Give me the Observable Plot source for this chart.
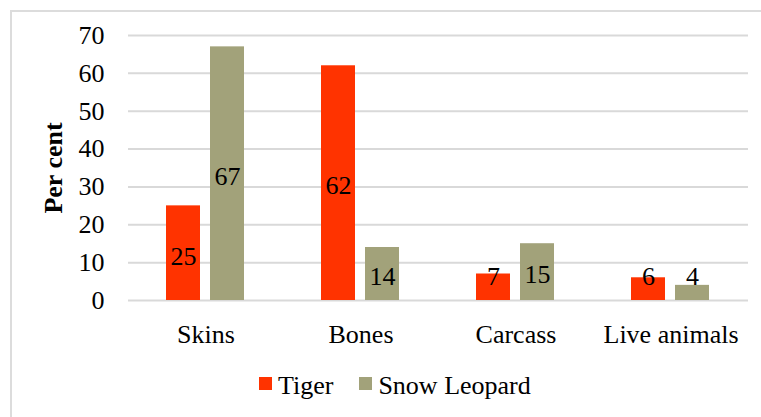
<!DOCTYPE html>
<html>
<head>
<meta charset="utf-8">
<script src="https://cdn.jsdelivr.net/npm/d3@7"></script>
<script src="https://cdn.jsdelivr.net/npm/@observablehq/plot@0.6"></script>
<style>
  html, body { margin: 0; padding: 0; background: #fff; overflow: hidden; }
  #wrap { position: relative; width: 761px; height: 417px; font-family: 'Liberation Serif', serif; color: #000; }
  #frame { position: absolute; left: 10px; top: 10px; width: 800px; height: 500px; border: 2px solid #dcdcdc; box-sizing: border-box; }
  #chart { position: absolute; left: 0; top: 0; }
  #chart svg, #chart svg text { font-family: 'Liberation Serif', serif !important; }
  #ylabel { position: absolute; left: 54px; top: 168px; transform: translate(-50%, -50%) rotate(-90deg); font-family: 'Liberation Serif', serif; font-weight: bold; font-size: 26px; white-space: nowrap; line-height: 1; }
  #legend { position: absolute; left: 259px; top: 371px; display: flex; font-family: 'Liberation Serif', serif; font-size: 26px; line-height: 30px; white-space: nowrap; }
  #legend .item { margin-right: 26px; font-family: 'Liberation Serif', serif; }
  #legend .sw { display: inline-block; width: 13px; height: 13px; margin-right: 6px; vertical-align: 4px; }
</style>
</head>
<body>
<div id="wrap">
  <div id="frame"></div>
  <div id="chart"></div>
  <div id="ylabel">Per cent</div>
  <div id="legend"></div>
</div>
<script>
const categories = ["Skins", "Bones", "Carcass", "Live animals"];
const series = ["Tiger", "Snow Leopard"];
const tigerValues = [25, 62, 7, 6];
const snowLeopardValues = [67, 14, 15, 4];
const yTicks = [0, 10, 20, 30, 40, 50, 60, 70];
const colors = ["#ff3300", "#a2a27a"];

const data = [];
categories.forEach((c, i) => {
  data.push({category: c, series: series[0], value: tigerValues[i]});
  data.push({category: c, series: series[1], value: snowLeopardValues[i]});
});

const chart = Plot.plot({
  width: 761,
  height: 360,
  marginLeft: 126,
  marginRight: 12,
  marginTop: 35,
  marginBottom: 60,
  style: {fontSize: "26px", fontFamily: "'Liberation Serif', serif", color: "#000", background: "transparent"},
  fx: {domain: categories, padding: 0, axis: "bottom", tickSize: 0, tickPadding: 24, label: null},
  x: {domain: series, paddingInner: 0.222, paddingOuter: 0.84, axis: null},
  y: {domain: [0, 70], ticks: yTicks, tickSize: 0, tickPadding: 24, label: null},
  color: {domain: series, range: colors},
  marks: [
    Plot.ruleY(yTicks, {stroke: "#d9d9d9", strokeWidth: 2}),
    Plot.barY(data, {fx: "category", x: "series", y: "value", fill: "series"}),
    Plot.text(data, {fx: "category", x: "series", y: d => Math.max(d.value / 2, 7), text: d => String(d.value), dy: 3, fill: "#000", fontSize: 26})
  ]
});
document.getElementById("chart").appendChild(chart);

const legend = document.getElementById("legend");
series.forEach((s, i) => {
  const item = document.createElement("span");
  item.className = "item";
  const sw = document.createElement("span");
  sw.className = "sw";
  sw.style.background = colors[i];
  item.appendChild(sw);
  item.appendChild(document.createTextNode(s));
  legend.appendChild(item);
});
</script>
</body>
</html>
